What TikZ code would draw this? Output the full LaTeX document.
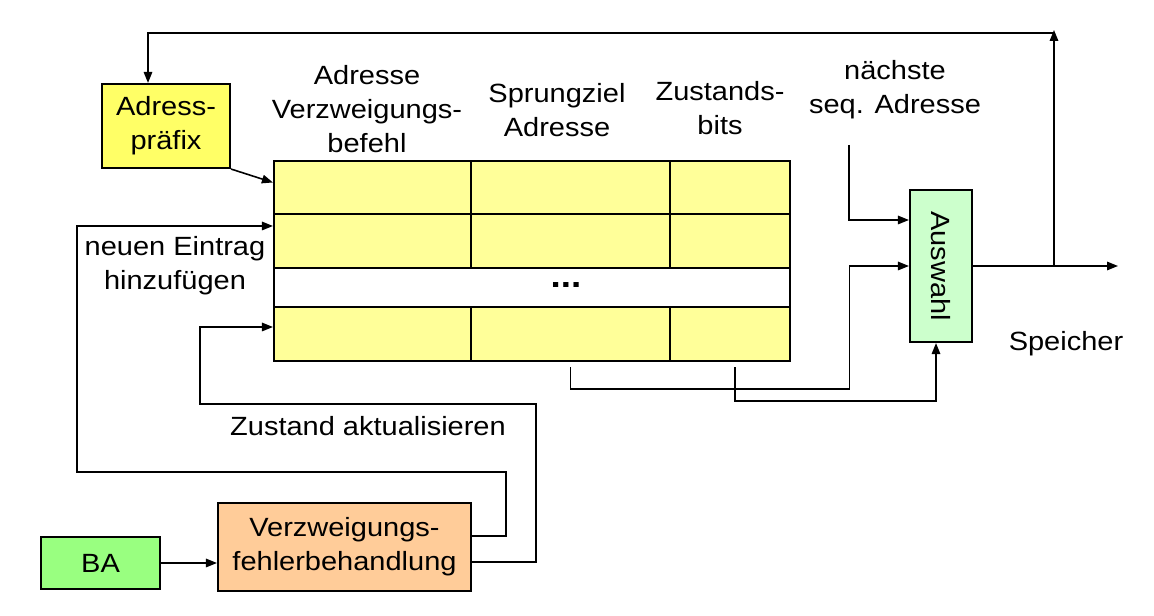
\documentclass[tikz,border=0pt]{standalone}
\usepackage{fontspec}
\setmainfont{Liberation Sans}[FakeStretch=1.1]
\usetikzlibrary{arrows.meta}
\definecolor{prefyellow}{HTML}{FFFF66}
\definecolor{cellyellow}{HTML}{FFFF99}
\definecolor{selgreen}{HTML}{CCFFCC}
\definecolor{bagreen}{HTML}{99FF80}
\definecolor{vfborange}{HTML}{FFCC99}

\begin{document}
\begin{tikzpicture}[x=0.2mm,y=-0.2mm,
font=\fontsize{15}{19.3}\selectfont,
box/.style={draw,line width=1.2pt,inner sep=0pt},
cell/.style={box,fill=cellyellow},
arr/.style={line width=0.9pt,-{Triangle[length=2.2mm,width=1.7mm]}}]
\useasboundingbox (0,0) rectangle (1154,616);
\foreach \r/\ya/\yb in {1/161/214,2/214/268,4/307/361}
\foreach \c/\xa/\xb in {1/274/471,2/471/670,3/670/790}
\node[cell,minimum width={(\xb-\xa)*0.2mm},minimum height={(\yb-\ya)*0.2mm}]
(cell-\r-\c) at ({(\xa+\xb)/2},{(\ya+\yb)/2}) {};
\node[box,fill=white,minimum width=103.2mm,minimum height=7.8mm] (gap) at (532,287.5) {};
\node[font=\fontsize{19}{20}\bfseries] (dots) at (566,285) {...};
\node[box,fill=prefyellow,minimum width=25.6mm,minimum height=16.8mm,align=center]
(pref) at (166,126) {Adress-\\präfix};
\node[box,fill=selgreen,minimum width=12.4mm,minimum height=30.4mm] (sel) at (941,266) {};
\node[rotate=-90] at (sel) {Auswahl};
\node[box,fill=bagreen,minimum width=23.8mm,minimum height=10.4mm] (ba) at (100.5,563) {BA};
\node[box,fill=vfborange,minimum width=50.6mm,minimum height=17.6mm,align=center]
(vfb) at (344.5,547) {Verzweigungs-\\fehlerbehandlung};
\node[align=center] (h1) at (367,109) {Adresse\\Verzweigungs-\\befehl};
\node[align=center] (h2) at (557,110) {Sprungziel\\Adresse};
\node[align=center] (h3) at (720,108) {Zustands-\\bits};
\node[align=center] (h4) at (895,90) {nächste\\seq. Adresse};
\node (mem) at (1066,344) {Speicher};
\node (upd) at (368,426) {Zustand aktualisieren};
\node[align=center] (new) at (175,266) {neuen Eintrag\\hinzufügen};
\coordinate (nx) at (849,145);
\coordinate (out) at (1118,266);
\coordinate (up) at (1054,30);
\draw[arr] (nx) |- ([yshift=9.2mm]sel.west);
\draw[arr] ([yshift=-1mm]cell-4-2.south) -- ++(0,22) -- ++(279,0) |- (sel.west);
\draw[arr] ([xshift=1mm,yshift=-1mm]cell-4-3.south) -- ++(0,34) -| ([xshift=-1mm]sel.south);
\draw[arr] (sel.east) -- (out);
\draw[arr] (up |- sel.east) -- (up);
\draw[arr] ([yshift=-0.6mm]up) -| ([xshift=-3.6mm]pref.north);
\draw[arr] (pref.south east) -- ([yshift=1mm]cell-1-1.west);
\draw[arr] (ba.east) -- (ba.east -| vfb.west);
\draw[arr] ([yshift=2.2mm]vfb.east) -| (506,472) -- (77,472) |- ([yshift=3mm]cell-2-1.west);
\draw[arr] ([yshift=-3mm]vfb.east) -| (536,404) -- (200,404) |- ([yshift=1.4mm]cell-4-1.west);
\end{tikzpicture}
\end{document}
